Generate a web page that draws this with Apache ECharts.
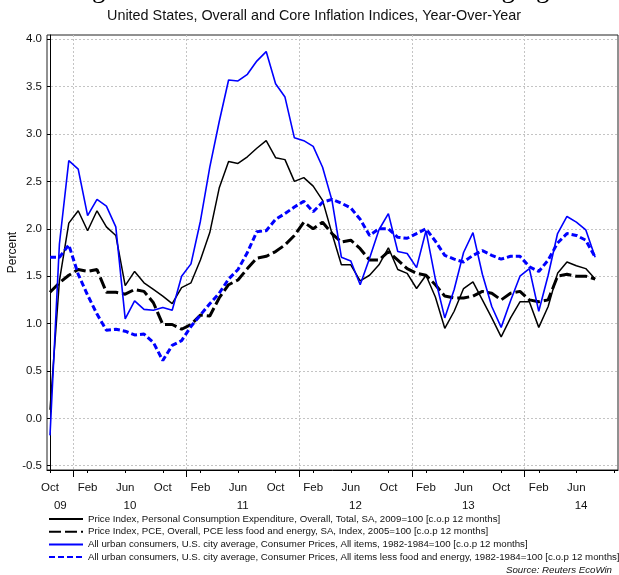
<!DOCTYPE html>
<html>
<head>
<meta charset="utf-8">
<script src="https://cdn.jsdelivr.net/npm/echarts@6/dist/echarts.min.js"></script>
<style>
html, body { margin: 0; padding: 0; background: #fff; }
#main { width: 619px; height: 575px; }
</style>
</head>
<body>
<div id="main"></div>
<script>
// monthly, Oct 2009 .. Aug 2014
const months = [
    '2009-10', '2009-11', '2009-12',
    '2010-01', '2010-02', '2010-03', '2010-04', '2010-05', '2010-06', '2010-07', '2010-08', '2010-09', '2010-10', '2010-11', '2010-12',
    '2011-01', '2011-02', '2011-03', '2011-04', '2011-05', '2011-06', '2011-07', '2011-08', '2011-09', '2011-10', '2011-11', '2011-12',
    '2012-01', '2012-02', '2012-03', '2012-04', '2012-05', '2012-06', '2012-07', '2012-08', '2012-09', '2012-10', '2012-11', '2012-12',
    '2013-01', '2013-02', '2013-03', '2013-04', '2013-05', '2013-06', '2013-07', '2013-08', '2013-09', '2013-10', '2013-11', '2013-12',
    '2014-01', '2014-02', '2014-03', '2014-04', '2014-05', '2014-06', '2014-07', '2014-08'
];

const pceTotal = [
    0.09, 1.45, 2.06, 2.19, 1.98, 2.19, 2.02, 1.93, 1.40, 1.55,
    1.43, 1.36, 1.29, 1.21, 1.38, 1.43, 1.67, 1.96, 2.43, 2.71,
    2.69, 2.76, 2.85, 2.93, 2.75, 2.73, 2.50, 2.54, 2.45, 2.30,
    1.95, 1.62, 1.62, 1.45, 1.51, 1.62, 1.80, 1.57, 1.53, 1.37,
    1.51, 1.28, 0.95, 1.13, 1.37, 1.44, 1.25, 1.06, 0.86, 1.06,
    1.23, 1.23, 0.96, 1.18, 1.53, 1.65, 1.61, 1.58, 1.47
];
const pceCore = [
    1.33, 1.43, 1.51, 1.57, 1.55, 1.57, 1.33, 1.33, 1.31, 1.36,
    1.34, 1.22, 0.99, 0.99, 0.94, 0.99, 1.09, 1.08, 1.27, 1.41,
    1.46, 1.58, 1.69, 1.71, 1.76, 1.83, 1.93, 2.07, 2.00, 2.07,
    1.95, 1.86, 1.88, 1.79, 1.67, 1.67, 1.76, 1.67, 1.58, 1.53,
    1.51, 1.41, 1.29, 1.27, 1.27, 1.29, 1.34, 1.32, 1.25, 1.32,
    1.34, 1.25, 1.23, 1.25, 1.50, 1.52, 1.50, 1.50, 1.47
];
const cpiAll = [
    -0.18, 1.84, 2.72, 2.63, 2.14, 2.31, 2.24, 2.02, 1.05, 1.24,
    1.15, 1.14, 1.17, 1.14, 1.50, 1.63, 2.08, 2.65, 3.13, 3.57,
    3.56, 3.63, 3.77, 3.87, 3.53, 3.39, 2.96, 2.93, 2.87, 2.65,
    2.30, 1.70, 1.66, 1.41, 1.69, 1.99, 2.16, 1.76, 1.74, 1.59,
    1.98, 1.47, 1.06, 1.36, 1.75, 1.96, 1.52, 1.18, 0.96, 1.24,
    1.50, 1.58, 1.13, 1.51, 1.95, 2.13, 2.07, 1.99, 1.70
];
const cpiCore = [
    1.70, 1.70, 1.83, 1.52, 1.30, 1.10, 0.93, 0.94, 0.92, 0.88,
    0.89, 0.80, 0.61, 0.77, 0.82, 0.97, 1.09, 1.21, 1.32, 1.47,
    1.57, 1.75, 1.97, 1.98, 2.10, 2.16, 2.23, 2.29, 2.18, 2.28,
    2.31, 2.27, 2.22, 2.10, 1.93, 2.00, 2.00, 1.91, 1.90, 1.95,
    2.00, 1.87, 1.72, 1.68, 1.65, 1.72, 1.77, 1.72, 1.68, 1.71,
    1.71, 1.60, 1.55, 1.67, 1.85, 1.95, 1.93, 1.88, 1.70
];

// axis labels
const monthTicks = [0, 4, 8, 12, 16, 20, 24, 28, 32, 36, 40, 44, 48, 52, 56, 60];
const monthTickLabels = ['Oct', 'Feb', 'Jun', 'Oct', 'Feb', 'Jun', 'Oct', 'Feb', 'Jun', 'Oct', 'Feb', 'Jun', 'Oct', 'Feb', 'Jun'];
const yearBounds = [2.5, 14.5, 26.5, 38.5, 50.5];
const yearCenters = [1.1, 8.5, 20.5, 32.5, 44.5, 56.5];
const yearLabels = ['09', '10', '11', '12', '13', '14'];
const yTicks = [-0.5, 0, 0.5, 1, 1.5, 2, 2.5, 3, 3.5, 4];

const names = [
    'Price Index, Personal Consumption Expenditure, Overall, Total, SA, 2009=100 [c.o.p 12 months]',
    'Price Index, PCE, Overall, PCE less food and energy, SA, Index, 2005=100 [c.o.p 12 months]',
    'All urban consumers, U.S. city average, Consumer Prices, All items, 1982-1984=100 [c.o.p 12 months]',
    'All urban consumers, U.S. city average, Consumer Prices, All items less food and energy, 1982-1984=100 [c.o.p 12 months]'
];

const X_MIN = -0.32;
const X_MAX = 60.43;
const SANS = 'Liberation Sans, Arial, sans-serif';

function pairs(arr) {
    return months.map((m, i) => [i, arr[i]]);
}

var dom = document.getElementById('main');
var myChart = echarts.init(dom, null, { renderer: 'canvas' });

var option = {
    animation: false,
    backgroundColor: '#fff',
    title: [
        {
            text: 'Signs of Inflation Measures Are Converging',
            left: 'center', top: -24, padding: 0,
            textStyle: { fontFamily: 'Liberation Serif, serif', fontSize: 27, fontWeight: 'normal', color: '#000' }
        },
        {
            text: 'United States, Overall and Core Inflation Indices, Year-Over-Year',
            left: 107, top: 9, padding: 0,
            textStyle: { fontFamily: SANS, fontSize: 14.4, fontWeight: 'normal', color: '#111' }
        },
        {
            text: 'Source: Reuters EcoWin',
            right: 7, top: 565, padding: 0,
            textStyle: { fontFamily: SANS, fontSize: 9.7, fontStyle: 'italic', fontWeight: 'normal', color: '#111' }
        }
    ],
    legend: {
        orient: 'vertical',
        left: 48, top: 513, padding: 0,
        itemWidth: 34, itemHeight: 8, itemGap: 0.7,
        itemStyle: { color: 'rgba(0,0,0,0)', borderWidth: 0, opacity: 0 },
        textStyle: { fontFamily: SANS, fontSize: 9.7, lineHeight: 12, color: '#111' },
        data: names
    },
    grid: {
        left: 47, right: 1, top: 35, bottom: 105,
        show: true, borderColor: '#222', borderWidth: 1,
        outerBoundsMode: 'none'
    },
    xAxis: [
        {
            type: 'value', min: X_MIN, max: X_MAX, position: 'bottom',
            axisLine: { show: true, onZero: false, lineStyle: { color: '#000' } },
            axisTick: { show: true, length: 3, customValues: monthTicks, lineStyle: { color: '#000' } },
            axisLabel: {
                customValues: monthTicks.slice(0, monthTickLabels.length),
                formatter: (v) => monthTickLabels[Math.round(v / 4)],
                margin: 12, fontFamily: SANS, fontSize: 11.5, color: '#111'
            },
            splitLine: { show: false }
        },
        {
            type: 'value', min: X_MIN, max: X_MAX, position: 'bottom',
            axisLine: { show: false, onZero: false },
            axisTick: { show: true, length: 7, customValues: yearBounds, lineStyle: { color: '#000' } },
            axisLabel: {
                customValues: yearCenters,
                formatter: (v) => yearLabels[yearCenters.indexOf(v)],
                margin: 30, fontFamily: SANS, fontSize: 11.5, color: '#111'
            },
            splitLine: { show: true, lineStyle: { type: [2, 2], color: '#c4c4c4', width: 1 } }
        }
    ],
    yAxis: {
        type: 'value', min: -0.545, max: 4.045,
        name: 'Percent', nameLocation: 'middle', nameGap: 28, nameMoveOverlap: false,
        nameTextStyle: { fontFamily: SANS, fontSize: 12, color: '#111' },
        axisLine: { show: true, lineStyle: { color: '#000' } },
        axisTick: { show: true, length: 3, customValues: yTicks, lineStyle: { color: '#000' } },
        axisLabel: {
            customValues: yTicks,
            formatter: (v) => v.toFixed(1),
            margin: 5, fontFamily: SANS, fontSize: 11.5, color: '#111'
        },
        splitLine: { show: true, lineStyle: { type: [2, 2], color: '#c4c4c4', width: 1 } }
    },
    series: [
        {
            name: names[0], type: 'line', symbol: 'none', data: pairs(pceTotal),
            lineStyle: { color: '#000', width: 1.5, type: 'solid' }, itemStyle: { color: '#000' }
        },
        {
            name: names[1], type: 'line', symbol: 'none', data: pairs(pceCore),
            lineStyle: { color: '#000', width: 3, type: [12, 4] }, itemStyle: { color: '#000' }
        },
        {
            name: names[2], type: 'line', symbol: 'none', data: pairs(cpiAll),
            lineStyle: { color: '#0000ff', width: 1.6, type: 'solid' }, itemStyle: { color: '#0000ff' }
        },
        {
            name: names[3], type: 'line', symbol: 'none', data: pairs(cpiCore),
            lineStyle: { color: '#0000ff', width: 3, type: [6, 3] }, itemStyle: { color: '#0000ff' }
        }
    ]
};

if (option && typeof option === 'object') {
    myChart.setOption(option);
}
window.addEventListener('resize', myChart.resize);
</script>
</body>
</html>
